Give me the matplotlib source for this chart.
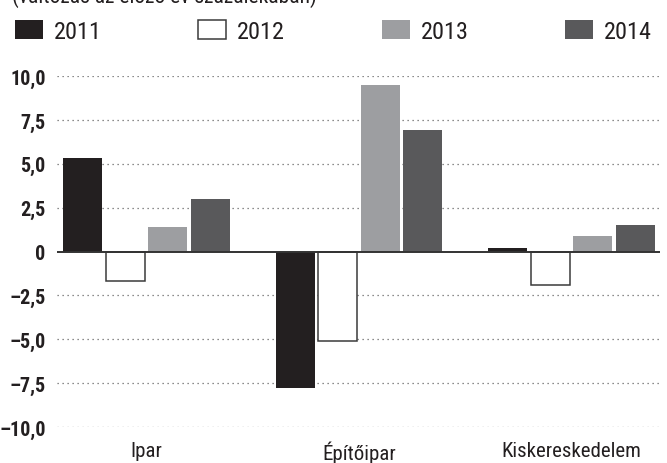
import matplotlib
matplotlib.use("Agg")
import matplotlib.pyplot as plt
from matplotlib.patches import Patch
from matplotlib import font_manager
import numpy as np

categories = ["Ipar", "Építőipar", "Kiskereskedelem"]
years = ["2011", "2012", "2013", "2014"]
v2011 = [5.3, -7.8, 0.2]
v2012 = [-1.7, -5.1, -1.9]
v2013 = [1.4, 9.5, 0.9]
v2014 = [3.0, 6.9, 1.5]
yticks = [-10, -7.5, -5, -2.5, 0, 2.5, 5, 7.5, 10]
ytick_labels = ["–10,0", "–7,5", "–5,0", "–2,5", "0", "2,5", "5,0", "7,5", "10,0"]
subtitle = "(változás az előző év százalékában)"

series = [v2011, v2012, v2013, v2014]
facecolors = ["#231f20", "#ffffff", "#9d9ea1", "#59595b"]
edgecolors = ["#231f20", "#3a3a3a", "#9d9ea1", "#59595b"]
edgewidths = [0, 1.1, 0, 0]

# pick a narrow family if one is installed
installed = {f.name for f in font_manager.fontManager.ttflist}
condensed = [n for n in ["Liberation Sans Narrow", "Roboto Condensed",
                         "Open Sans Condensed", "Noto Sans Condensed",
                         "DejaVu Sans Condensed"] if n in installed]
extra = sorted(n for n in installed if ("Condensed" in n or "Narrow" in n)
               and n not in condensed)
base = condensed + extra + ["Roboto", "DejaVu Sans"]
plt.rcParams['font.family'] = base
plt.rcParams['font.stretch'] = 'condensed'

W, H = 667, 464
fig = plt.figure(figsize=(W / 100, H / 100), dpi=100)
ax = fig.add_axes([57 / W, (H - 428) / H, (660 - 57) / W, (428 - 77) / H])

x = np.arange(len(categories))
pitch = 0.2
width = 0.184
for i, vals in enumerate(series):
    ax.bar(x + (i - 1.5) * pitch, vals, width=width, color=facecolors[i],
           edgecolor=edgecolors[i], linewidth=edgewidths[i], zorder=3)

for t in yticks:
    if t == 0:
        ax.axhline(0, color="#333333", linewidth=1.4, zorder=4)
    else:
        ax.axhline(t, color="#666666", linewidth=0.9, linestyle=(0, (1, 3)), zorder=1)

ax.set_xlim(-0.421, 2.416)
ax.set_ylim(-10, 10)
ax.set_yticks(yticks)
ax.set_yticklabels(ytick_labels, fontsize=14.5, fontweight="bold", color="#231f20")
ax.set_xticks(x)
ax.set_xticklabels(categories, fontsize=15, color="#231f20")
ax.tick_params(axis="y", length=0, pad=8.2)
ax.tick_params(axis="x", length=0, pad=10)
for s in ax.spines.values():
    s.set_visible(False)

handles = [Patch(facecolor=facecolors[i], edgecolor=edgecolors[i],
                 linewidth=edgewidths[i] if edgewidths[i] else 0) for i in range(4)]
fig.legend(handles, years, ncol=4, mode="expand", loc="lower left",
           bbox_to_anchor=(15 / W, 1 - 44 / H, 637 / W, 22 / H),
           frameon=False, fontsize=17.5, handlelength=1.15, handleheight=0.77,
           handletextpad=0.45, borderpad=0, borderaxespad=0, labelcolor="#231f20")

fig.text(12 / W, 1 - 3 / H, subtitle, fontsize=15.5, color="#231f20",
         ha="left", va="baseline")

fig.savefig("out.png", dpi=100)
